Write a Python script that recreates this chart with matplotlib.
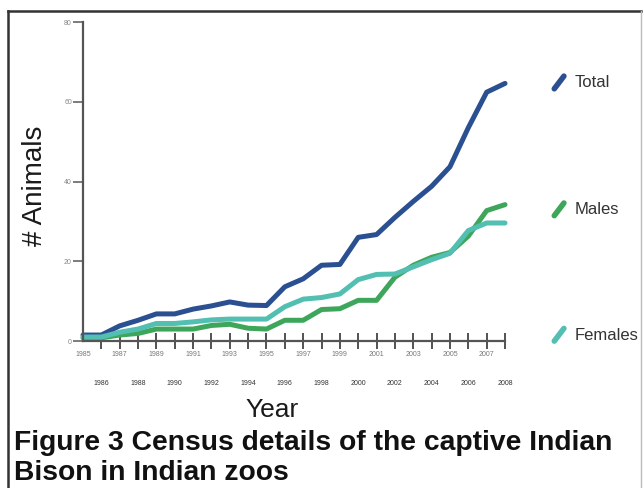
import matplotlib
matplotlib.use('Agg')
import matplotlib.pyplot as plt
from matplotlib.lines import Line2D

# datos
years = list(range(1985, 2009))
total = [1.5, 1.5, 3.8, 5.2, 6.8, 6.8, 8.0, 8.8, 9.8, 9.0, 8.9, 13.6,
         15.6, 19.0, 19.2, 26.0, 26.7, 31.0, 35.0, 38.8, 43.7, 53.5, 62.4, 64.6]
males = [0.8, 0.8, 1.5, 1.9, 3.0, 3.0, 3.0, 3.9, 4.2, 3.2, 3.0, 5.2,
         5.2, 7.9, 8.1, 10.2, 10.2, 16.0, 19.0, 21.0, 22.2, 26.3, 32.7, 34.2]
females = [1.0, 1.0, 2.2, 3.0, 4.4, 4.4, 4.8, 5.3, 5.5, 5.5, 5.5, 8.6,
           10.5, 10.9, 11.8, 15.4, 16.7, 16.8, 18.6, 20.4, 22.0, 27.7, 29.6, 29.6]
series_names = ['Total', 'Males', 'Females']
y_ticks = [0, 20, 40, 60, 80]

colores = {'Total': '#2b5091', 'Males': '#3ea65b', 'Females': '#52bfb2'}

plt.rcParams['font.family'] = ['Liberation Sans', 'DejaVu Sans']

fig = plt.figure(figsize=(6.43, 4.88), dpi=100)
ax = fig.add_axes([0.1291, 0.3012, 0.6563, 0.6537])

# lineas
for nombre, valores in zip(series_names, [total, males, females]):
    ax.plot(years, valores, color=colores[nombre], linewidth=3.6,
            solid_capstyle='round', solid_joinstyle='round', clip_on=False)

ax.set_xlim(1985, 2008)
ax.set_ylim(0, 80)

# ejes
for lado in ['top', 'right']:
    ax.spines[lado].set_visible(False)
for lado in ['left', 'bottom']:
    ax.spines[lado].set_color('#555555')
    ax.spines[lado].set_linewidth(1.6)

ax.set_yticks(y_ticks)
ax.set_yticklabels([str(v) for v in y_ticks])
ax.tick_params(axis='y', direction='out', length=7, width=1.2, color='#666666',
               labelsize=5, labelcolor='#888888', pad=1)

ax.set_xticks(years)
ax.set_xticklabels([str(y) for y in years])
ax.tick_params(axis='x', direction='inout', length=12, width=1.3, color='#444444',
               labelsize=5, labelcolor='#777777', pad=1.5)
for i, tick in enumerate(ax.xaxis.get_major_ticks()):
    if years[i] % 2 == 0:
        tick.set_pad(22)
        tick.label1.set_color('#333333')
    if i == 0:
        tick.tick1line.set_visible(False)

# titulos de ejes
fig.text(0.055, 0.62, '# Animals', rotation=90, fontsize=20,
         ha='center', va='center', color='#1a1a1a')
fig.text(0.423, 0.16, 'Year', fontsize=19, ha='center', va='center', color='#1a1a1a')

# leyenda a la derecha
leyenda_y = {'Total': 0.83, 'Males': 0.57, 'Females': 0.313}
for nombre in series_names:
    yy = leyenda_y[nombre]
    fig.add_artist(Line2D([0.862, 0.877], [yy - 0.012, yy + 0.014], color=colores[nombre],
                          linewidth=4, solid_capstyle='round'))
    fig.text(0.893, yy, nombre, fontsize=12, ha='left', va='center', color='#333333')

# pie de figura
fig.text(0.022, 0.092, 'Figure 3 Census details of the captive Indian', fontsize=20.3,
         fontweight='bold', ha='left', va='center', color='#111111')
fig.text(0.022, 0.03, 'Bison in Indian zoos', fontsize=20.3,
         fontweight='bold', ha='left', va='center', color='#111111')

# marco
fig.add_artist(Line2D([0.013, 0.997], [0.977, 0.977], color='#333333', linewidth=1.8))
fig.add_artist(Line2D([0.013, 0.013], [0.0, 0.977], color='#333333', linewidth=1.8))
fig.add_artist(Line2D([0.997, 0.997], [0.0, 0.977], color='#bbbbbb', linewidth=1.0))

fig.savefig('out.png', dpi=100)
